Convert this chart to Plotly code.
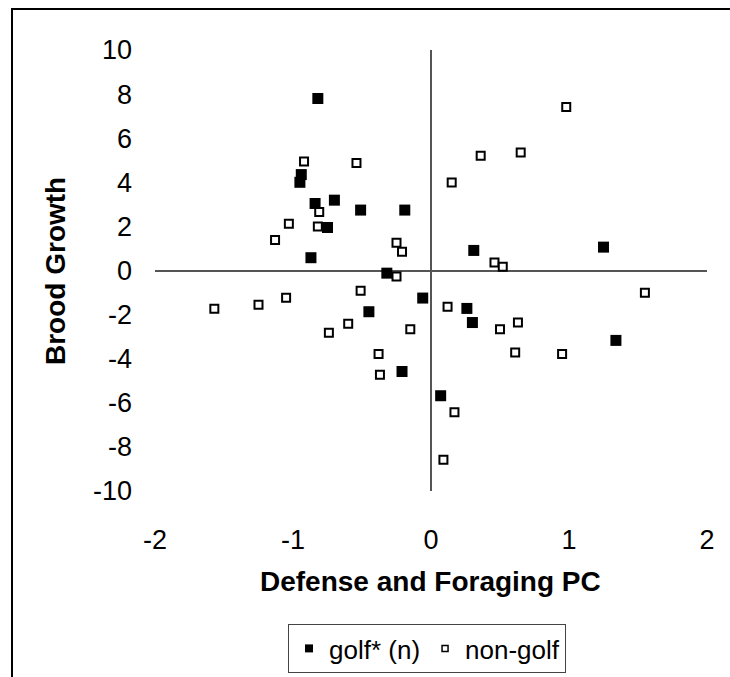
import plotly.graph_objects as go

# Data
golf_x = [-0.82, -0.94, -0.95, -0.84, -0.70, -0.51, -0.19, -0.75, -0.87, -0.32,
          -0.06, -0.45, -0.21, 0.07, 0.31, 1.25, 0.26, 0.30, 1.34]
golf_y = [7.8, 4.35, 4.0, 3.04, 3.19, 2.74, 2.74, 1.95, 0.58, -0.12,
          -1.25, -1.87, -4.58, -5.68, 0.91, 1.06, -1.72, -2.36, -3.17]

nongolf_x = [-0.92, -0.54, -0.81, -0.82, -1.03, -1.13, -0.25, -0.21, -0.25, -0.51,
             -1.57, -1.25, -1.05, -0.60, -0.74, -0.15, -0.38, -0.37, 0.46, 0.52,
             1.55, 0.12, 0.50, 0.63, 0.61, 0.95, 0.17, 0.09, 0.98, 0.36, 0.65, 0.15]
nongolf_y = [4.94, 4.88, 2.65, 2.0, 2.12, 1.38, 1.26, 0.85, -0.27, -0.92,
             -1.74, -1.55, -1.24, -2.42, -2.82, -2.67, -3.79, -4.73, 0.36, 0.17,
             -1.01, -1.64, -2.67, -2.36, -3.72, -3.79, -6.43, -8.58, 7.42, 5.20, 5.35, 3.99]

x_ticks = [-2, -1, 0, 1, 2]
y_ticks = [-10, -8, -6, -4, -2, 0, 2, 4, 6, 8, 10]
series_names = ["golf* (n)", "non-golf"]

FONT = "Arial, Liberation Sans, sans-serif"

fig = go.Figure()
fig.add_trace(go.Scatter(
    x=golf_x, y=golf_y, mode="markers", name=series_names[0], showlegend=False,
    marker=dict(symbol="square", size=11, color="black", line=dict(width=0)),
))
fig.add_trace(go.Scatter(
    x=nongolf_x, y=nongolf_y, mode="markers", name=series_names[1], showlegend=False,
    marker=dict(symbol="square", size=8, color="white", line=dict(width=2, color="black")),
))
# legend entries (smaller symbols as in the reference legend)
fig.add_trace(go.Scatter(
    x=[None], y=[None], mode="markers", name=series_names[0],
    marker=dict(symbol="square", size=8, color="black", line=dict(width=0)),
))
fig.add_trace(go.Scatter(
    x=[None], y=[None], mode="markers", name=series_names[1],
    marker=dict(symbol="square", size=6, color="white", line=dict(width=1.5, color="black")),
))

L, R, T, B = 155, 23, 50, 186
W, H = 730, 677
pw, ph = W - L - R, H - T - B

def px(xp):
    return (xp - L) / pw

def py(yp):
    return (H - B - yp) / ph

fig.update_layout(
    width=W, height=H,
    margin=dict(l=L, r=R, t=T, b=B, pad=0),
    paper_bgcolor="white", plot_bgcolor="white",
    font=dict(family=FONT, color="black"),
    xaxis=dict(range=[-2, 2], tickvals=x_ticks, ticktext=[str(v) for v in x_ticks],
               showgrid=False, showline=False, zeroline=True, zerolinecolor="#555",
               zerolinewidth=1.5, ticks="", tickfont=dict(size=27, family=FONT),
               ticklabelstandoff=30, fixedrange=True),
    yaxis=dict(range=[-10, 10], tickvals=y_ticks, ticktext=[str(v) for v in y_ticks],
               showgrid=False, showline=False, zeroline=True, zerolinecolor="#555",
               zerolinewidth=1.5, ticks="", tickfont=dict(size=27, family=FONT),
               ticklabelstandoff=22, fixedrange=True),
    legend=dict(orientation="h", x=px(427), xanchor="center",
                yref="container", y=(H - 673) / H, yanchor="bottom",
                bordercolor="#444", borderwidth=1, bgcolor="white",
                font=dict(size=26, family=FONT), itemwidth=30, tracegroupgap=0),
    showlegend=True,
    annotations=[
        dict(text="<b>Defense and Foraging PC</b>", x=px(430), y=py(581), xref="paper", yref="paper",
             xanchor="center", yanchor="middle", showarrow=False, font=dict(size=28, family=FONT)),
        dict(text="<b>Brood Growth</b>", x=px(55), y=py(271), xref="paper", yref="paper",
             xanchor="center", yanchor="middle", showarrow=False, textangle=-90,
             font=dict(size=28, family=FONT)),
    ],
    shapes=[
        dict(type="rect", xref="paper", yref="paper", x0=px(12), x1=px(740), y0=py(690), y1=py(9),
             line=dict(color="black", width=2), fillcolor="rgba(0,0,0,0)", layer="below"),
    ],
)

fig.write_html("out.html")
